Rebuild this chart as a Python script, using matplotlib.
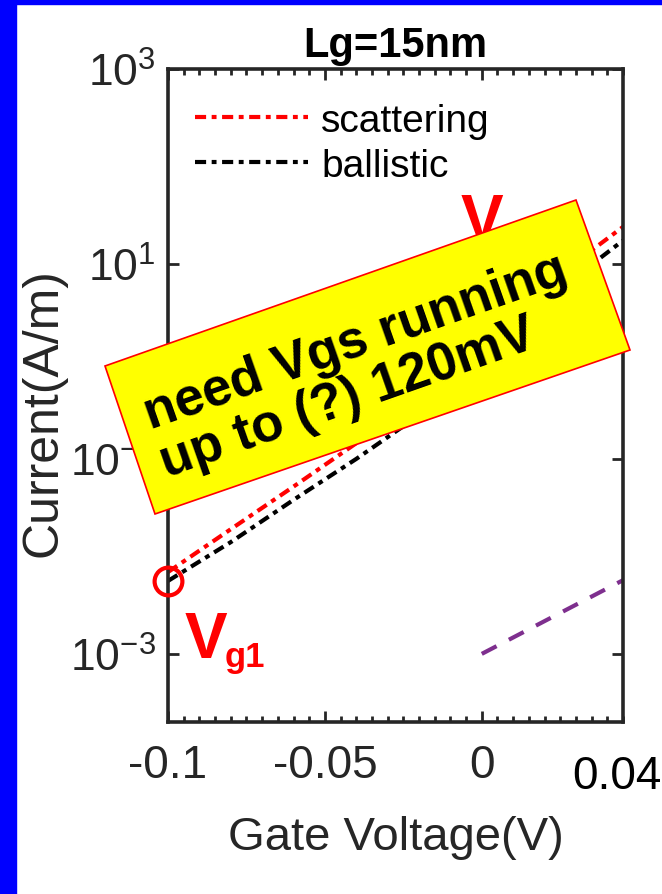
# librerías
import numpy as np
import matplotlib.pyplot as plt
from matplotlib.patches import Polygon, Rectangle
from matplotlib.ticker import MultipleLocator, NullLocator

plt.rcParams['font.family'] = ['Liberation Sans', 'DejaVu Sans']
plt.rcParams['mathtext.default'] = 'regular'
plt.rcParams['lines.scale_dashes'] = False

#%% datos
vg = [-0.1, -0.08, -0.06, -0.04, -0.02, 0.0, 0.02, 0.045]
i_scatt = [6.9e-3, 1.9e-2, 5.2e-2, 0.145, 0.48, 1.6, 6.0, 24.0]
i_ball = [5.6e-3, 1.4e-2, 3.8e-2, 0.10, 0.28, 1.1, 4.2, 17.4]
vg_ref = [0.0, 0.045]
i_ref = [1.0e-3, 5.7e-3]
x_ticks = [-0.1, -0.05, 0]
x_labels = ['-0.1', '-0.05', '0']
y_ticks = [1e-3, 1e-1, 1e1, 1e3]
y_labels = ['$10^{-3}$', '$10^{-1}$', '$10^{1}$', '$10^{3}$']

W, H = 662, 895
gris = '#262626'
narrow = ['Liberation Sans Narrow', 'Liberation Sans']

fig = plt.figure(figsize=(W / 100, H / 100), dpi=100)
fig.patch.set_facecolor('white')
# marco azul (izquierda y arriba)
fig.add_artist(Rectangle((0, 0), 16 / W, 1, transform=fig.transFigure, color='blue', zorder=0))
fig.add_artist(Rectangle((0, 1 - 5 / H), 1, 5 / H, transform=fig.transFigure, color='blue', zorder=0))

ax = fig.add_axes([168 / W, 1 - 723 / H, (623 - 168) / W, (723 - 70) / H])

#%% curvas
ax.plot(vg, i_scatt, color='red', lw=3.0, dashes=(8, 4, 3.5, 4), label='scattering')
ax.plot(vg, i_ball, color='black', lw=3.0, dashes=(8, 4, 3.5, 4), label='ballistic')
ax.plot(vg_ref, i_ref, color='#7E2F8E', lw=3.0, dashes=(12, 10))
ax.plot(vg[0], i_ball[0], 'o', ms=20, mfc='none', mec='red', mew=3.0, clip_on=False, zorder=5)

ax.set_yscale('log')
ax.set_xlim(-0.1, 0.045)
ax.set_ylim(2e-4, 1e3)
ax.set_xticks(x_ticks, x_labels)
ax.set_yticks(y_ticks, y_labels)
ax.xaxis.set_minor_locator(MultipleLocator(0.005))
ax.yaxis.set_minor_locator(NullLocator())
ax.tick_params(which='both', direction='in', top=True, right=True, color=gris, width=2)
ax.tick_params(which='major', length=8)
ax.tick_params(which='minor', length=4)
ax.tick_params(axis='x', labelsize=33, labelcolor=gris, pad=15)
ax.tick_params(axis='y', labelsize=32, labelcolor=gris, pad=9)
for s in ax.spines.values():
    s.set_linewidth(2.6)
    s.set_color(gris)

ax.set_title('Lg=15nm', fontsize=30, fontweight='bold', pad=9)
ax.set_xlabel('Gate Voltage(V)', fontsize=34, color=gris)
ax.xaxis.set_label_coords(0.5, -0.143)
ax.set_ylabel('Current(A/m)', fontsize=36, color=gris)
ax.yaxis.set_label_coords(-0.224, 0.476)

ax.legend(loc='upper left', bbox_to_anchor=(0.059, 0.948), frameon=False, fontsize=28,
          handlelength=2.9, handletextpad=0.35, labelspacing=0.22, borderpad=0, borderaxespad=0)

#%% anotaciones
fig.text(572 / W, 1 - 789 / H, '0.04', fontsize=33, color='black', va='baseline')
fig.text(185 / W, 1 - 658 / H, 'V', fontsize=46, fontweight='bold', color='red',
         va='baseline', family=narrow)
fig.text(225 / W, 1 - 667 / H, 'g1', fontsize=25, fontweight='bold', color='red',
         va='baseline', family=narrow)
fig.text(461 / W, 1 - 240 / H, 'V', fontsize=46, fontweight='bold', color='red',
         va='baseline', family=narrow, zorder=4)

# recuadro amarillo girado
esq = np.array([[105, 367], [576, 201], [630, 351], [155, 515]], dtype=float)
esq_fig = np.column_stack([esq[:, 0] / W, 1 - esq[:, 1] / H])
fig.add_artist(Polygon(esq_fig, closed=True, transform=fig.transFigure,
                       facecolor='#FFFF00', edgecolor='red', lw=1.2, zorder=5))
cx, cy = esq[:, 0].mean(), esq[:, 1].mean()
fig.text((cx - 3) / W, 1 - (cy + 8) / H, 'need Vgs running\nup to (?) 120mV', fontsize=38,
         fontweight='bold', color='black', rotation=19.4, rotation_mode='anchor',
         ha='center', va='center', multialignment='left', linespacing=1.0, zorder=6)

plt.savefig('out.png', dpi=100)
